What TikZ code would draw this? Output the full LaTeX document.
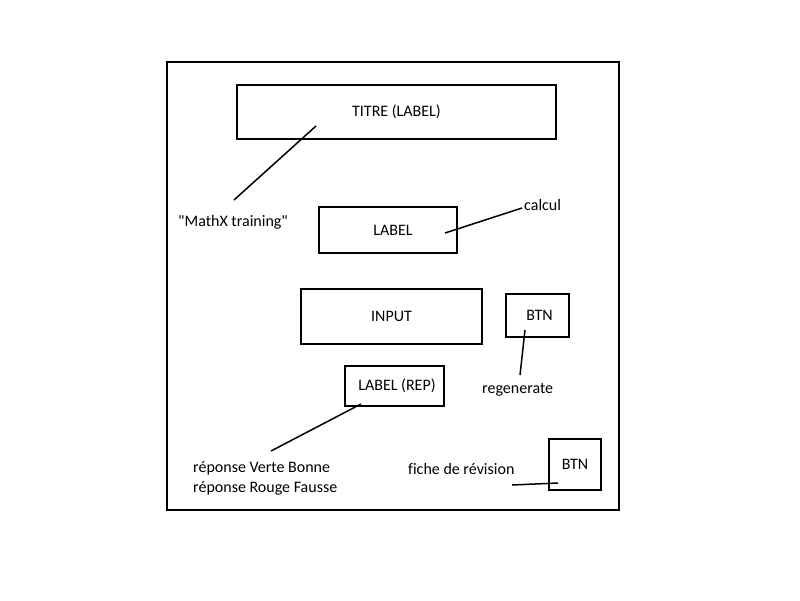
\documentclass[tikz,border=0pt]{standalone}
\usepackage{fontspec}
\setmainfont{Carlito}[Ligatures=NoCommon]
\usetikzlibrary{positioning}
\newcommand{\dq}{\XeTeXglyph\XeTeXcharglyph 34\relax}
\tikzset{
  box/.style={draw, line width=1.5pt, inner sep=0pt},
  note/.style={anchor=west, inner sep=0pt, align=left},
  lead/.style={line width=1.5pt},
}

\begin{document}
\begin{tikzpicture}[x=1pt,y=-1pt,font=\fontsize{16}{20}\selectfont]
    \useasboundingbox (0,0) rectangle (800,600);
    \draw[line width=1.6pt] (167,62) rectangle (619,510);
    % boxes
    \node[box, minimum width=319pt, minimum height=54pt] (titre) at (396.5,112) {TITRE (LABEL)};
    \node[box, minimum width=138pt, minimum height=46pt] (calc) at (388,230) {\hspace{10pt}LABEL};
    \node[box, minimum width=181pt, minimum height=55pt] (input) at (391.5,316.5) {INPUT};
    \node[box, minimum width=63pt, minimum height=43pt] (regen) at (537.5,315.5) {\hspace{4pt}\raisebox{-4pt}{BTN}};
    \node[box, minimum width=99pt, minimum height=40pt] (rep) at (394.5,386) {\hspace{5pt}LABEL (REP)};
    \node[box, minimum width=52pt, minimum height=51pt] (fiche) at (575,464.5) {BTN};
    % notes
    \node[note] (mathx) at (178,222) {\dq MathX training\dq};
    \node[note] (calcul) at (524,205) {calcul};
    \node[note] (regtxt) at (482,390) {regenerate};
    \node[note] (reptxt) at (193,478) {réponse Verte Bonne\\réponse Rouge Fausse};
    \node[note] (fichetxt) at (408,469) {fiche de révision};
    % leads
    \coordinate (titreIn) at (316,126);
    \coordinate (mathxEnd) at (234,200);
    \coordinate (calcIn) at (445,233);
    \coordinate (calculEnd) at (522,208);
    \coordinate (regenIn) at (525,330);
    \coordinate (regtxtEnd) at (520,375);
    \coordinate (repIn) at (361,404);
    \coordinate (reptxtEnd) at (271,451);
    \coordinate (ficheIn) at (558,483);
    \coordinate (fichetxtEnd) at (512,485);
    \draw[lead] (titreIn) -- (mathxEnd);
    \draw[lead] (calcIn) -- (calculEnd);
    \draw[lead] (regenIn) -- (regtxtEnd);
    \draw[lead] (repIn) -- (reptxtEnd);
    \draw[lead] (ficheIn) -- (fichetxtEnd);
\end{tikzpicture}
\end{document}
